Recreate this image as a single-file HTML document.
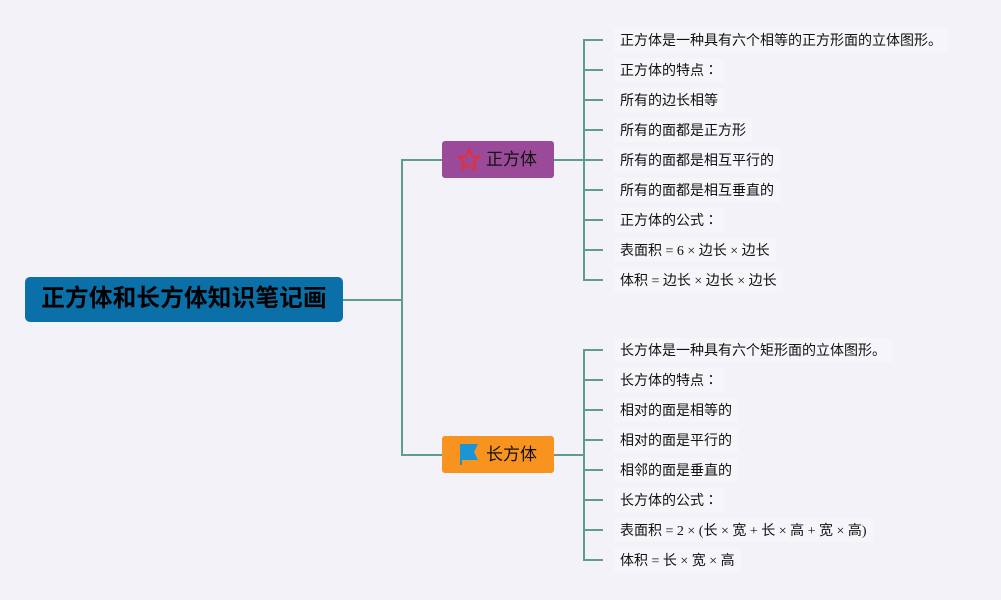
<!DOCTYPE html>
<html>
<head>
<meta charset="utf-8">
<style>
  html, body { margin:0; padding:0; }
  body { width:1001px; height:600px; background:#f2f2f8; position:relative; overflow:hidden;
    font-family:"Liberation Sans","Noto Sans CJK SC",sans-serif; }
  svg.lines { position:absolute; left:0; top:0; }
  .root { position:absolute; left:25px; top:277px; width:318px; height:45px; background:#0b6fa8;
    border-radius:5px; color:#000; font-weight:bold; font-size:23.6px; line-height:45px; text-align:center;
    letter-spacing:0.2px; }
  .branch { position:absolute; left:442px; width:112px; height:37px; border-radius:3px; font-size:17px;
    line-height:37px; color:#111; }
  .branch span { position:absolute; left:44px; top:0; }
  .b1 { top:141px; background:#9b4a99; }
  .b2 { top:436px; background:#f7931e; }
  .leaf { position:absolute; left:614px; height:24px; line-height:24px; font-size:14px; color:#111;
    padding:0 6px; background:#f5f5fa; white-space:nowrap;
    font-family:"Liberation Serif","Noto Sans CJK SC",serif; }
  .leaf .t { position:relative; top:2px; }
  .leaf .c { font-family:"Noto Sans CJK JP",sans-serif; line-height:0; }
</style>
</head>
<body>
<svg class="lines" width="1001" height="600" viewBox="0 0 1001 600">
  <g stroke="#5f9c8e" stroke-width="2" fill="none">
    <line x1="342" y1="300" x2="402" y2="300"/>
    <line x1="402" y1="159" x2="402" y2="456"/>
    <line x1="402" y1="160" x2="442" y2="160"/>
    <line x1="402" y1="455" x2="442" y2="455"/>
    <line x1="554" y1="160" x2="584" y2="160"/>
    <line x1="554" y1="455" x2="584" y2="455"/>
    <line x1="584" y1="39" x2="584" y2="281"/>
    <line x1="584" y1="349" x2="584" y2="561"/>
    <line x1="584" y1="40" x2="603" y2="40"/>
    <line x1="584" y1="70" x2="603" y2="70"/>
    <line x1="584" y1="100" x2="603" y2="100"/>
    <line x1="584" y1="130" x2="603" y2="130"/>
    <line x1="584" y1="160" x2="603" y2="160"/>
    <line x1="584" y1="190" x2="603" y2="190"/>
    <line x1="584" y1="220" x2="603" y2="220"/>
    <line x1="584" y1="250" x2="603" y2="250"/>
    <line x1="584" y1="280" x2="603" y2="280"/>
    <line x1="584" y1="350" x2="603" y2="350"/>
    <line x1="584" y1="380" x2="603" y2="380"/>
    <line x1="584" y1="410" x2="603" y2="410"/>
    <line x1="584" y1="440" x2="603" y2="440"/>
    <line x1="584" y1="470" x2="603" y2="470"/>
    <line x1="584" y1="500" x2="603" y2="500"/>
    <line x1="584" y1="530" x2="603" y2="530"/>
    <line x1="584" y1="560" x2="603" y2="560"/>
  </g>
</svg>

<div class="root">正方体和长方体知识笔记画</div>

<div class="branch b1">
  <svg style="position:absolute;left:15px;top:6px" width="24" height="26" viewBox="0 0 24 26">
    <polygon points="12,2 14.9,9.5 22.5,9.8 16.6,14.8 18.6,22.5 12,18.2 5.4,22.5 7.4,14.8 1.5,9.8 9.1,9.5"
      fill="none" stroke="#e0303c" stroke-width="2" stroke-linejoin="round"/>
  </svg>
  <span>正方体</span>
</div>

<div class="branch b2">
  <svg style="position:absolute;left:17px;top:7px" width="20" height="24" viewBox="0 0 20 24">
    <rect x="1" y="1" width="2" height="21" fill="#2a8fc0"/>
    <polygon points="1,1 19,1 15,9 19,17 1,17" fill="#1a95d8"/>
  </svg>
  <span>长方体</span>
</div>

<div class="leaf" style="top:28px"><span class="t">正方体是一种具有六个相等的正方形面的立体图形。</span></div>
<div class="leaf" style="top:58px"><span class="t">正方体的特点<span class="c">：</span></span></div>
<div class="leaf" style="top:88px"><span class="t">所有的边长相等</span></div>
<div class="leaf" style="top:118px"><span class="t">所有的面都是正方形</span></div>
<div class="leaf" style="top:148px"><span class="t">所有的面都是相互平行的</span></div>
<div class="leaf" style="top:178px"><span class="t">所有的面都是相互垂直的</span></div>
<div class="leaf" style="top:208px"><span class="t">正方体的公式<span class="c">：</span></span></div>
<div class="leaf" style="top:238px"><span class="t">表面积 = 6 × 边长 × 边长</span></div>
<div class="leaf" style="top:268px"><span class="t">体积 = 边长 × 边长 × 边长</span></div>

<div class="leaf" style="top:338px"><span class="t">长方体是一种具有六个矩形面的立体图形。</span></div>
<div class="leaf" style="top:368px"><span class="t">长方体的特点<span class="c">：</span></span></div>
<div class="leaf" style="top:398px"><span class="t">相对的面是相等的</span></div>
<div class="leaf" style="top:428px"><span class="t">相对的面是平行的</span></div>
<div class="leaf" style="top:458px"><span class="t">相邻的面是垂直的</span></div>
<div class="leaf" style="top:488px"><span class="t">长方体的公式<span class="c">：</span></span></div>
<div class="leaf" style="top:518px"><span class="t">表面积 = 2 × (长 × 宽 + 长 × 高 + 宽 × 高)</span></div>
<div class="leaf" style="top:548px"><span class="t">体积 = 长 × 宽 × 高</span></div>
</body>
</html>
